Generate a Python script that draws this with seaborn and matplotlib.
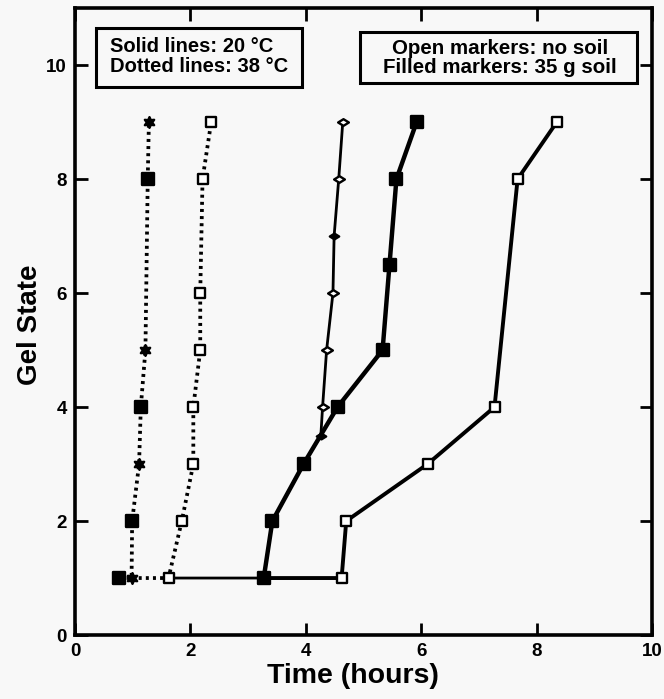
import matplotlib
matplotlib.use("Agg")
import matplotlib.pyplot as plt
from matplotlib.path import Path
from matplotlib.patches import Rectangle
import seaborn as sns
import pandas as pd

# Gel state versus time, four gel formulations plus a replicate
# Dotted lines: 38 C, solid lines: 20 C; open markers: no soil, filled: 35 g soil
hot_soil_t = [0.77, 0.98, 0.99, 1.11, 1.14, 1.22, 1.26, 1.28]
hot_soil_g = [1, 1, 2, 3, 4, 5, 8, 9]
hot_soil_mk = ["sq_f", "star", "sq_f", "star", "sq_f", "star", "sq_f", "star"]

hot_clean_t = [0.98, 1.62, 1.85, 2.05, 2.05, 2.17, 2.17, 2.21, 2.36]
hot_clean_g = [1, 1, 2, 3, 4, 5, 6, 8, 9]
hot_clean_mk = ["", "sq_o", "sq_o", "sq_o", "sq_o", "sq_o", "sq_o", "sq_o", "sq_o"]

cold_soil_t = [3.27, 3.42, 3.96, 4.55, 5.33, 5.45, 5.57, 5.92]
cold_soil_g = [1, 2, 3, 4, 5, 6.5, 8, 9]
cold_soil_mk = ["sq_f", "sq_f", "sq_f", "sq_f", "sq_f", "sq_f", "sq_f", "sq_f"]

cold_rep_t = [1.62, 3.27, 3.42, 3.96, 4.26, 4.29, 4.36, 4.47, 4.49, 4.57, 4.64]
cold_rep_g = [1, 1, 2, 3, 3.5, 4, 5, 6, 7, 8, 9]
cold_rep_mk = ["", "", "", "", "dm_f", "dm_o", "dm_o", "dm_o", "dm_f", "dm_o", "dm_o"]

cold_clean_t = [3.27, 4.62, 4.70, 6.11, 7.27, 7.67, 8.35]
cold_clean_g = [1, 1, 2, 3, 4, 8, 9]
cold_clean_mk = ["", "sq_o", "sq_o", "sq_o", "sq_o", "sq_o", "sq_o"]

x_ticks = [0, 2, 4, 6, 8, 10]
y_ticks = [0, 2, 4, 6, 8, 10]

sns.set_theme(style="ticks")
plt.rcParams["font.family"] = ["Liberation Sans", "DejaVu Sans"]
plt.rcParams["font.weight"] = "bold"
plt.rcParams["text.color"] = "black"
plt.rcParams["axes.labelcolor"] = "black"
plt.rcParams["xtick.color"] = "black"
plt.rcParams["ytick.color"] = "black"

bg = "#f8f8f8"
fig = plt.figure(figsize=(6.64, 6.99), dpi=100, facecolor=bg)
ax = fig.add_axes([0.113, 0.0915, 0.869, 0.897])
ax.set_facecolor(bg)

dots = (0, (0.8, 1.1))
series = [
    (hot_soil_t, hot_soil_g, hot_soil_mk, dots, 2.7),
    (hot_clean_t, hot_clean_g, hot_clean_mk, dots, 2.7),
    (cold_rep_t, cold_rep_g, cold_rep_mk, "-", 2.0),
    (cold_soil_t, cold_soil_g, cold_soil_mk, "-", 3.2),
    (cold_clean_t, cold_clean_g, cold_clean_mk, "-", 2.8),
]

flat_diamond = Path([(-1, 0), (0, 0.62), (1, 0), (0, -0.62), (-1, 0)],
                    [Path.MOVETO, Path.LINETO, Path.LINETO, Path.LINETO, Path.CLOSEPOLY])

marker_style = {
    "sq_f": dict(marker="s", s=72, facecolor="black"),
    "sq_o": dict(marker="s", s=62, facecolor="white"),
    "star": dict(marker=(6, 1, 0), s=60, facecolor="black"),
    "dm_f": dict(marker=flat_diamond, s=45, facecolor="black"),
    "dm_o": dict(marker=flat_diamond, s=60, facecolor="white"),
}

for t, g, mk, ls, lw in series:
    df = pd.DataFrame({"t": t, "g": g, "mk": mk})
    sns.lineplot(data=df, x="t", y="g", sort=False, estimator=None,
                 color="black", linestyle=ls, linewidth=lw, ax=ax, zorder=2)
    for kind, sty in marker_style.items():
        sub = df[df["mk"] == kind]
        if len(sub):
            ax.scatter(sub["t"], sub["g"], marker=sty["marker"], s=sty["s"],
                       facecolor=sty["facecolor"], edgecolor="black",
                       linewidth=1.7, zorder=3)

ax.set_xlim(0, 10)
ax.set_ylim(0, 11)
ax.set_xticks(x_ticks)
ax.set_yticks(y_ticks)
ax.tick_params(direction="in", length=9, width=2, top=True, right=True,
               labelsize=13.5, pad=6)
for lab in ax.get_xticklabels() + ax.get_yticklabels():
    lab.set_fontweight("bold")
for sp in ax.spines.values():
    sp.set_linewidth(2.6)
    sp.set_color("black")

ax.set_xlabel("Time (hours)", fontsize=20.5, fontweight="bold")
ax.set_ylabel("Gel State", fontsize=20, fontweight="bold")
ax.xaxis.set_label_coords(0.482, -0.045)
ax.yaxis.set_label_coords(-0.055, 0.495)

# annotation boxes
ax.add_patch(Rectangle((0.37, 9.61), 3.56, 1.04, fill=False, edgecolor="black",
                       linewidth=2.2, zorder=4))
ax.text(0.60, 10.15, "Solid lines: 20 \u00b0C\nDotted lines: 38 \u00b0C",
        fontsize=14.5, fontweight="bold", ha="left", va="center",
        linespacing=1.12, zorder=5)
ax.add_patch(Rectangle((4.94, 9.68), 4.80, 0.90, fill=False, edgecolor="black",
                       linewidth=2.2, zorder=4))
ax.text(7.37, 10.13, "Open markers: no soil\nFilled markers: 35 g soil",
        fontsize=14.8, fontweight="bold", ha="center", va="center",
        linespacing=1.0, zorder=5)

fig.savefig("out.png", dpi=100, facecolor=bg)
